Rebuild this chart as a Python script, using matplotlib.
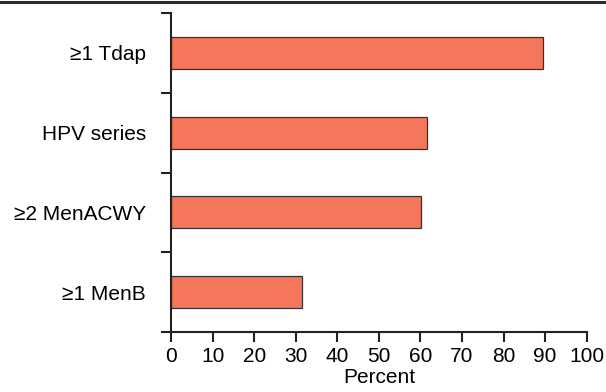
import matplotlib.pyplot as plt
from matplotlib.lines import Line2D

plt.rcParams['font.family'] = ['Liberation Sans', 'DejaVu Sans']

vacunas = ['≥1 Tdap', 'HPV series', '≥2 MenACWY', '≥1 MenB']
percent = [89.6, 61.7, 60.1, 31.4]
xticks = [0, 10, 20, 30, 40, 50, 60, 70, 80, 90, 100]

fig = plt.figure(figsize=(6.06, 3.92), dpi=100)
ax = fig.add_axes([171 / 606, 1 - 332 / 392, (586.7 - 171) / 606, (332 - 13) / 392])

pos = list(range(len(vacunas)))
ax.barh(pos, percent, height=0.4, color='#F4775B', edgecolor='#333333', linewidth=0.9)

ax.set_xlim(0, 100)
ax.set_ylim(len(vacunas) - 0.5, -0.5)

ax.set_xticks(xticks)
ax.tick_params(axis='x', direction='out', length=7, width=1.5, labelsize=15, pad=4, color='#222222')

# labels at centers, ticks at category boundaries
ax.set_yticks(pos)
ax.set_yticklabels(vacunas)
ax.tick_params(axis='y', which='major', length=0, labelsize=15, pad=18)
ax.set_yticks([p - 0.5 for p in pos] + [len(vacunas) - 0.5], minor=True)
ax.tick_params(axis='y', which='minor', direction='out', length=7, width=1.5, color='#222222')

for s in ['top', 'right']:
    ax.spines[s].set_visible(False)
for s in ['left', 'bottom']:
    ax.spines[s].set_linewidth(1.5)
    ax.spines[s].set_color('#222222')

ax.set_xlabel('Percent', fontsize=15, labelpad=1)

fig.add_artist(Line2D([0, 1], [1 - 1.5 / 392, 1 - 1.5 / 392], transform=fig.transFigure,
                      color='#2a2a2a', linewidth=2.2))

fig.savefig('out.png', dpi=100)
